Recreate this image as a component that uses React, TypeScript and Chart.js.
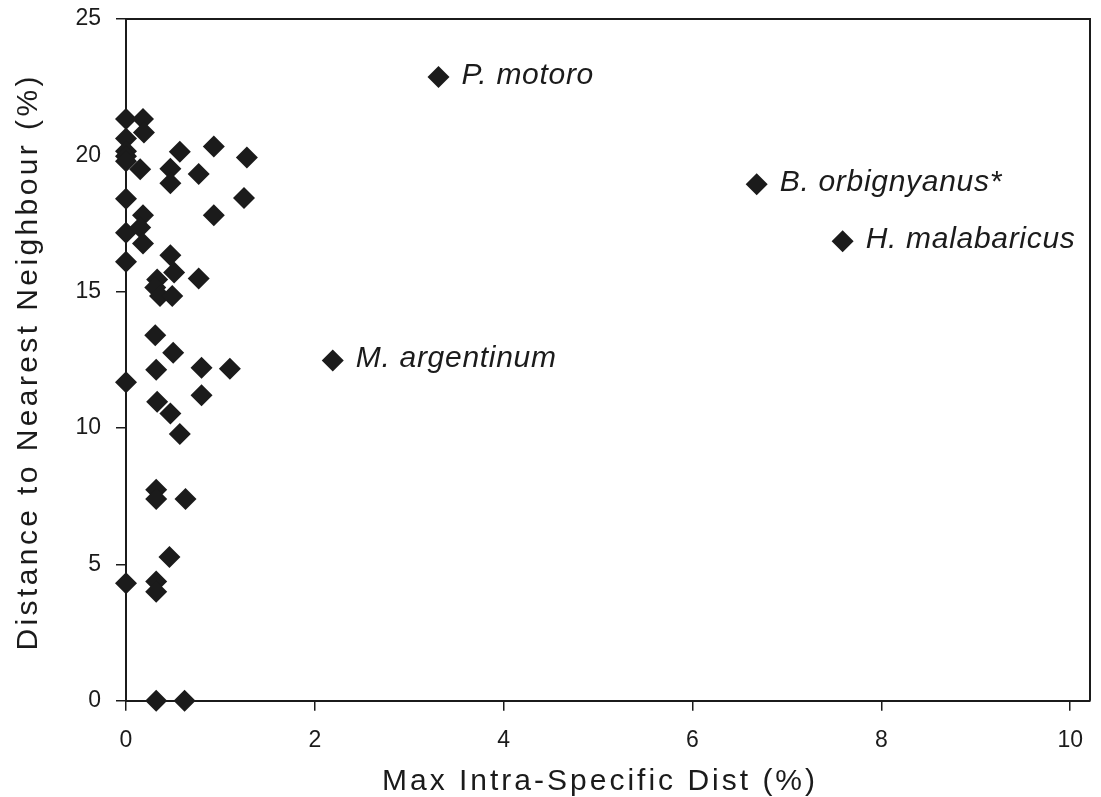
import React, { useEffect, useRef } from 'react';
import { Chart, registerables } from 'chart.js';
Chart.register(...registerables);

// Unlabelled species (max intra-specific distance %, distance to nearest neighbour %)
const plainX = [
  0, 0, 0, 0, 0, 0, 0, 0, 0, 0,
  0.18, 0.19, 0.57, 0.93, 1.28, 0.15, 0.47, 0.77, 0.47, 1.25,
  0.93, 0.18, 0.15, 0.18, 0.47, 0.51, 0.77, 0.33, 0.31, 0.36,
  0.49, 0.31, 0.5, 0.32, 0.8, 1.1, 0.8, 0.33, 0.47, 0.57,
  0.32, 0.32, 0.63, 0.46, 0.32, 0.32, 0.32, 0.62,
];
const plainY = [
  21.33, 20.62, 20.15, 19.97, 19.78, 18.41, 17.16, 16.1, 11.68, 4.31,
  21.33, 20.84, 20.13, 20.32, 19.92, 19.49, 19.51, 19.32, 18.98, 18.44,
  17.8, 17.8, 17.35, 16.77, 16.34, 15.7, 15.48, 15.45, 15.15, 14.84,
  14.84, 13.4, 12.76, 12.14, 12.21, 12.17, 11.2, 10.96, 10.53, 9.78,
  7.74, 7.4, 7.4, 5.27, 4.37, 4.0, 0, 0,
];

// Labelled species
const labeledNames = ['P. motoro', 'B. orbignyanus*', 'H. malabaricus', 'M. argentinum'];
const labeledX = [3.31, 6.68, 7.59, 2.19];
const labeledY = [22.87, 18.94, 16.85, 12.48];

const xTicks = [0, 2, 4, 6, 8, 10];
const yTicks = [0, 5, 10, 15, 20, 25];
const xTitle = 'Max Intra-Specific Dist (%)';
const yTitle = 'Distance to Nearest Neighbour (%)';

const FONT = '"Liberation Sans", Arial, sans-serif';
const INK = '#1b1b1b';

const annotPlugin = {
  id: 'annot',
  afterDraw(chart: any) {
    const { ctx, chartArea, scales } = chart;
    ctx.save();
    // top & right frame
    ctx.strokeStyle = INK;
    ctx.lineWidth = 2;
    ctx.beginPath();
    ctx.moveTo(chartArea.left, chartArea.top);
    ctx.lineTo(chartArea.right, chartArea.top);
    ctx.lineTo(chartArea.right, chartArea.bottom);
    ctx.stroke();

    // species labels
    ctx.fillStyle = INK;
    ctx.font = `italic 30px ${FONT}`;
    (ctx as any).letterSpacing = '0.7px';
    ctx.textAlign = 'left';
    ctx.textBaseline = 'alphabetic';
    labeledNames.forEach((name, i) => {
      const px = scales.x.getPixelForValue(labeledX[i]);
      const py = scales.y.getPixelForValue(labeledY[i]);
      ctx.fillText(name, px + 23, py + 7);
    });

    // axis titles
    ctx.font = `30px ${FONT}`;
    (ctx as any).letterSpacing = '3px';
    ctx.textAlign = 'center';
    ctx.fillText(xTitle, (chartArea.left + chartArea.right) / 2 - 8, 790);
    (ctx as any).letterSpacing = '3.4px';
    ctx.translate(36.5, (chartArea.top + chartArea.bottom) / 2 + 2);
    ctx.rotate(-Math.PI / 2);
    ctx.fillText(yTitle, 0, 0);
    ctx.restore();
  },
};

export default function App() {
  const ref = useRef<HTMLCanvasElement>(null);
  useEffect(() => {
    if (!ref.current) return;
    const allData = [
      ...plainX.map((x, i) => ({ x, y: plainY[i] })),
      ...labeledX.map((x, i) => ({ x, y: labeledY[i] })),
    ];
    const chart = new Chart(ref.current, {
      type: 'scatter',
      data: {
        datasets: [
          {
            data: allData,
            pointStyle: 'rectRot',
            pointRadius: 11,
            pointHoverRadius: 11,
            backgroundColor: INK,
            borderColor: INK,
            borderWidth: 0,
            clip: false,
          },
        ],
      },
      options: {
        animation: false,
        responsive: false,
        devicePixelRatio: 1,
        layout: { padding: { left: 0, top: 19, right: 10, bottom: 0 } },
        plugins: { legend: { display: false }, tooltip: { enabled: false } },
        scales: {
          x: {
            type: 'linear',
            min: 0,
            max: 10.21,
            afterFit: (s: any) => {
              s.height = 96.3;
              s.paddingLeft = 0;
              s.paddingRight = 0;
              s.paddingTop = 0;
              s.paddingBottom = 0;
            },
            afterBuildTicks: (s: any) => { s.ticks = xTicks.map((v) => ({ value: v })); },
            ticks: { font: { family: FONT, size: 23 }, color: INK, padding: 16, maxRotation: 0 },
            grid: { display: true, drawOnChartArea: false, drawTicks: true, tickLength: 10, color: INK, lineWidth: 1.5 },
            border: { display: true, color: INK, width: 2 },
          },
          y: {
            type: 'linear',
            min: 0,
            max: 25,
            afterFit: (s: any) => {
              s.width = 126;
              s.paddingLeft = 0;
              s.paddingRight = 0;
              s.paddingTop = 0;
              s.paddingBottom = 0;
            },
            afterBuildTicks: (s: any) => { s.ticks = yTicks.map((v) => ({ value: v })); },
            ticks: { font: { family: FONT, size: 23 }, color: INK, padding: 15 },
            grid: { display: true, drawOnChartArea: false, drawTicks: true, tickLength: 10, color: INK, lineWidth: 1.5 },
            border: { display: true, color: INK, width: 2 },
          },
        },
      },
      plugins: [annotPlugin],
    });
    return () => chart.destroy();
  }, []);
  return (
    <canvas
      ref={ref}
      width={1101}
      height={797}
      style={{ position: 'fixed', left: 0, top: 0, width: 1101, height: 797, display: 'block', background: '#fff' }}
    />
  );
}
